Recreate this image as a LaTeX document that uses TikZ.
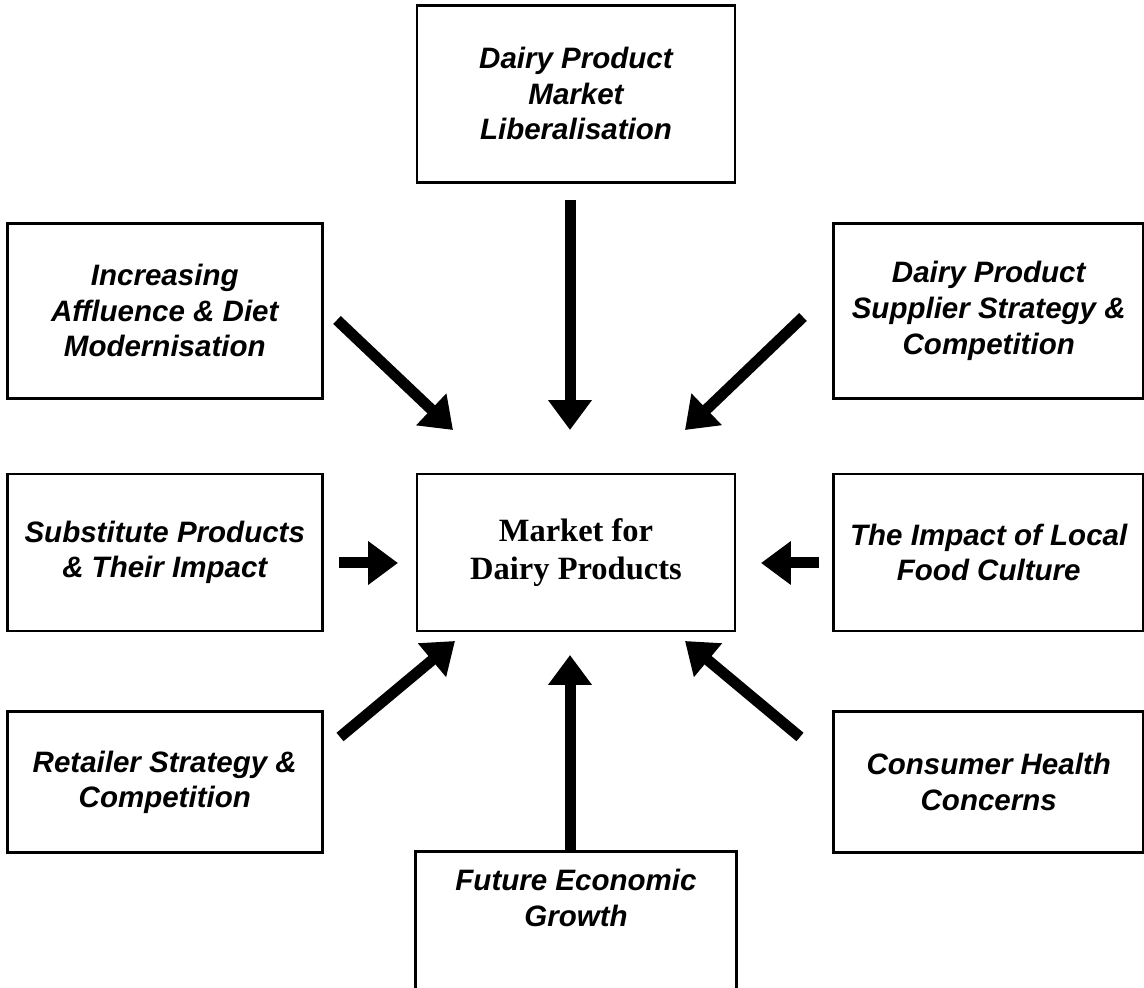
\documentclass[tikz,border=0pt]{standalone}
\usepackage{fontspec}
\setmainfont{Liberation Serif}
\newfontfamily\boxfont{Liberation Sans}
\usepackage{xcolor}
\usepackage{tikz}
\usetikzlibrary{positioning, arrows.meta}

\begin{document}
\begin{tikzpicture}[
    x=0.02cm, y=0.02cm,
    box/.style={
        rectangle,
        draw,
        line width=1.6pt,
        align=center,
        font=\fontsize{16.8}{20.3}\selectfont\boxfont\bfseries\itshape
    },
    hub/.style={
        box,
        font=\fontsize{18.5}{21.8}\selectfont\bfseries
    },
    frame/.style={
        line width=1.6pt
    },
    arrow/.style={
        line width=0.22cm,
        -{Triangle[length=0.6cm, width=0.84cm]}
    }
]

\path[use as bounding box, clip] (0,0) rectangle (1144,988);

% Centre

\node[hub, minimum width=6.36cm, minimum height=3.14cm] (market) at (576,435.5) {
Market for\\
Dairy Products
};

% Middle row

\node[box, minimum width=6.3cm, minimum height=3.14cm, left=1.84cm of market] (substitute) {
Substitute Products\\
\& Their Impact
};

\node[box, minimum width=6.2cm, minimum height=3.14cm, right=1.92cm of market] (culture) {
The Impact of Local\\
Food Culture
};

% Top and upper row

\node[box, minimum width=6.36cm, minimum height=3.54cm, above=5.78cm of market] (liberal) {
Dairy Product\\
Market\\
Liberalisation
};

\node[box, minimum width=6.3cm, minimum height=3.5cm, above=1.46cm of substitute] (affluence) {
Increasing\\
Affluence \& Diet\\
Modernisation
};

\node[box, minimum width=6.2cm, minimum height=3.5cm, above=1.46cm of culture] (supplier) {
Dairy Product\\
Supplier Strategy \&\\
Competition
};

% Lower row and bottom

\node[box, minimum width=6.3cm, minimum height=2.82cm, below=1.56cm of substitute] (retailer) {
Retailer Strategy \&\\
Competition
};

\node[box, minimum width=6.2cm, minimum height=2.82cm, below=1.56cm of culture] (health) {
Consumer Health\\
Concerns
};

\node[box, draw=none, minimum width=6.36cm, minimum height=1.8cm, below=4.38cm of market] (growth) {
Future Economic\\
Growth
};

% open frame, runs off the page
\draw[frame] (growth.south west) ++(0,-80) |- (growth.north east) -- ++(0,-170);


% Arrow ends

\coordinate (libtail) at (570,788);
\coordinate (libtip) at (570,558);
\coordinate (afftail) at (337,668);
\coordinate (afftip) at (453,558);
\coordinate (suptail) at (803,671);
\coordinate (suptip) at (685,558);
\coordinate (subtail) at (339,425);
\coordinate (subtip) at (398,425);
\coordinate (cultail) at (819,425);
\coordinate (cultip) at (761,425);
\coordinate (rettail) at (340,251);
\coordinate (rettip) at (455,347);
\coordinate (heatail) at (800,251);
\coordinate (heatip) at (685,347);
\coordinate (grotail) at (570,138);
\coordinate (grotip) at (570,333);


% Arrows

\draw[arrow] (libtail)--(libtip);
\draw[arrow] (afftail)--(afftip);
\draw[arrow] (suptail)--(suptip);
\draw[arrow] (subtail)--(subtip);
\draw[arrow] (cultail)--(cultip);
\draw[arrow] (rettail)--(rettip);
\draw[arrow] (heatail)--(heatip);
\draw[arrow] (grotail)--(grotip);

\end{tikzpicture}
\end{document}
